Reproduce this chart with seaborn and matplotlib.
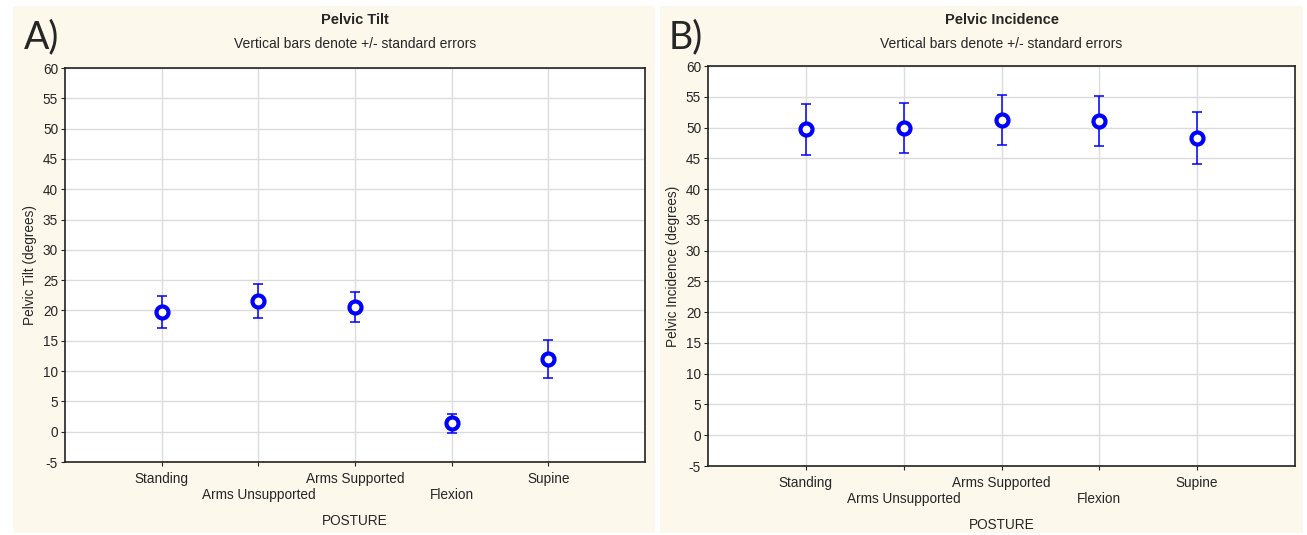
import matplotlib
matplotlib.use("Agg")
import matplotlib.pyplot as plt
import seaborn as sns
import pandas as pd
from matplotlib.patches import Rectangle

postures = ["Standing", "Arms Unsupported", "Arms Supported", "Flexion", "Supine"]
tilt_mean = [19.7, 21.6, 20.6, 1.4, 12.0]
tilt_se = [2.65, 2.8, 2.5, 1.6, 3.1]
incidence_mean = [49.7, 49.9, 51.2, 51.0, 48.3]
incidence_se = [4.15, 4.1, 4.1, 4.05, 4.25]

sns.set_style("white")
plt.rcParams["font.family"] = ["Liberation Sans", "DejaVu Sans"]
plt.rcParams["axes.unicode_minus"] = False

W, H = 1307, 535
fig = plt.figure(figsize=(W / 100, H / 100), dpi=100)
fig.patch.set_facecolor("white")

# cream panel backgrounds
for x0, x1 in [(13, 655), (660, 1303)]:
    fig.patches.append(Rectangle((x0 / W, 2 / H), (x1 - x0) / W, (H - 8) / H,
                                 transform=fig.transFigure, facecolor="#fdf8ec",
                                 edgecolor="none", zorder=-5))

blue = "#0000ff"
fs = 9.8


def panel(rect, mean, se, title, ylabel, letter, letter_x):
    ax = fig.add_axes(rect)
    ax.set_facecolor("white")
    df = pd.DataFrame({"posture": postures, "mean": mean, "se": se})
    df["x"] = range(len(postures))
    ax.errorbar(df["x"], df["mean"], yerr=df["se"], fmt="none",
                ecolor=blue, elinewidth=1.1, capsize=3.5, capthick=1.1, zorder=3)
    sns.scatterplot(data=df, x="x", y="mean", ax=ax,
                    s=75, marker="o", facecolor="white", edgecolor=blue,
                    linewidth=3, zorder=4, legend=False)
    ax.set_xlim(-1, 5)
    ax.set_ylim(-5, 60)
    ax.set_yticks(range(-5, 61, 5))
    ax.set_xticks(range(len(postures)))
    labels = [p if i % 2 == 0 else "\n" + p for i, p in enumerate(postures)]
    ax.set_xticklabels(labels, fontsize=fs, linespacing=1.2)
    ax.tick_params(axis="y", labelsize=fs, length=3, direction="out", left=True, pad=2)
    ax.tick_params(axis="x", length=3, direction="out", bottom=True, pad=4)
    ax.grid(True, color="#dcdcdc", linewidth=1)
    ax.set_axisbelow(True)
    for s in ax.spines.values():
        s.set_color("#222222")
        s.set_linewidth(1.2)
    ax.set_xlabel("POSTURE", fontsize=fs, labelpad=8.5)
    ax.set_ylabel(ylabel, fontsize=fs, labelpad=4)
    bbox = ax.get_position()
    cx = bbox.x0 + bbox.width / 2
    fig.text(cx, 1 - 20 / H, title, ha="center", va="center", fontsize=10.5,
             fontweight="bold")
    fig.text(cx, 1 - 44 / H, "Vertical bars denote +/- standard errors",
             ha="center", va="center", fontsize=10)
    fig.text(letter_x / W, 1 - 37 / H, letter, ha="left", va="center", fontsize=27,
             family=["Lato", "DejaVu Sans"])
    return ax


panel([65 / W, (H - 462) / H, 580 / W, 394 / H], tilt_mean, tilt_se,
      "Pelvic Tilt", "Pelvic Tilt (degrees)", "A)", 24)
panel([708 / W, (H - 466) / H, 587 / W, 400 / H], incidence_mean, incidence_se,
      "Pelvic Incidence", "Pelvic Incidence (degrees)", "B)", 669)

fig.savefig("out.png", dpi=100)
